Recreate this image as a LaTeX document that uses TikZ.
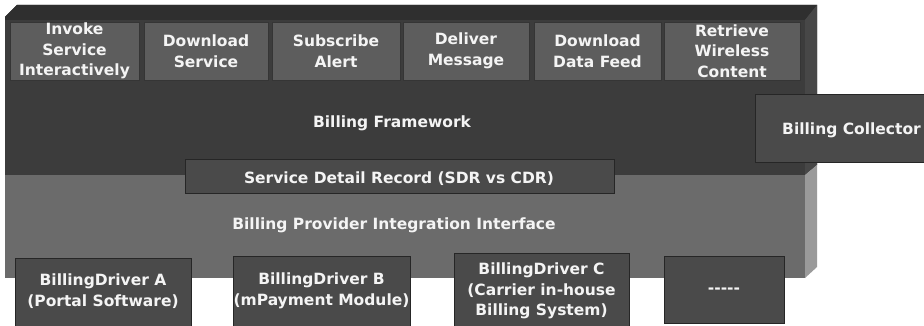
\documentclass[tikz,border=0pt]{standalone}
\usepackage{fontspec}
\setmainfont{DejaVu Sans}
\definecolor{topface}{HTML}{2F2F2F}
\definecolor{frontc}{HTML}{3C3C3C}
\definecolor{rightup}{HTML}{474747}
\definecolor{tabfill}{HTML}{5D5D5D}
\definecolor{tabline}{HTML}{353535}
\definecolor{lowerc}{HTML}{6B6B6B}
\definecolor{rightlow}{HTML}{9A9A9A}
\definecolor{boxfill}{HTML}{4A4A4A}
\definecolor{boxline}{HTML}{262626}
\definecolor{txt}{HTML}{F4F4F4}
\tikzset{
  lbl/.style={text=txt, font=\bfseries\fontsize{15.5}{20.5}\selectfont, align=center, inner sep=0pt},
  tabbox/.style={lbl, fill=tabfill, draw=tabline, line width=0.8pt, minimum height=58pt},
  darkbox/.style={fill=boxfill, draw=boxline, line width=1pt}
}
\begin{document}
\begin{tikzpicture}[x=1pt,y=-1pt]
\useasboundingbox (0,0) rectangle (924,326);
% upper 3D block
\fill[frontc] (5,17) -- (17,5) -- (817,5) -- (817,165) -- (805,175) -- (5,175) -- cycle;
\fill[topface] (5,17) -- (17,5) -- (817,5) -- (805,20) -- (5,20) -- cycle;
\fill[rightup] (805,20) -- (817,5) -- (817,165) -- (805,175) -- cycle;
% lower 3D block
\fill[lowerc] (5,175) rectangle (805,278);
\fill[rightlow] (805,175) -- (817,165) -- (817,267) -- (805,278) -- cycle;
% tabs
\node[tabbox, minimum width=129pt] (t1) at (74.5,51) {Invoke\\Service\\Interactively};
\node[tabbox, minimum width=124pt] (t2) at (206,51) {Download\\Service};
\node[tabbox, minimum width=128pt] (t3) at (336,51) {Subscribe\\Alert};
\node[tabbox, minimum width=126pt] (t4) at (466,51) {Deliver\\Message};
\node[tabbox, minimum width=127pt] (t5) at (597.5,51) {Download\\Data Feed};
\node[tabbox, minimum width=136pt] (t6) at (732,51) {Retrieve\\Wireless\\Content};
% framework label
\node[lbl, anchor=base] (bf) at (392,128) {Billing Framework};
% collector
\fill[boxfill] (755,95) rectangle (924,163);
\draw[boxline, line width=1pt] (924,95) -- (755,95) -- (755,163) -- (924,163);
\node[lbl, anchor=base west] (bc) at (782,135) {Billing Collector};
% SDR
\draw[darkbox] (185,160) rectangle (614,193);
\node[lbl, anchor=base] (sdr) at (399,183) {Service Detail Record (SDR vs CDR)};
% provider interface
\node[lbl, anchor=base] (bpi) at (394,229) {Billing Provider Integration Interface};
% drivers
\draw[darkbox] (15,258) rectangle (191,330);
\node[lbl] (da) at (103,291) {BillingDriver A\\(Portal Software)};
\draw[darkbox] (233,256) rectangle (410,330);
\node[lbl] (db) at (321.5,291) {BillingDriver B\\(mPayment Module)};
\draw[darkbox] (454,253) rectangle (629,330);
\node[lbl] (dc) at (541.5,291) {BillingDriver C\\(Carrier in-house\\Billing System)};
\draw[darkbox] (664,256) rectangle (784,323);
\node[lbl] (dd) at (724,291) {{-}{-}{-}{-}{-}};
\end{tikzpicture}
\end{document}
